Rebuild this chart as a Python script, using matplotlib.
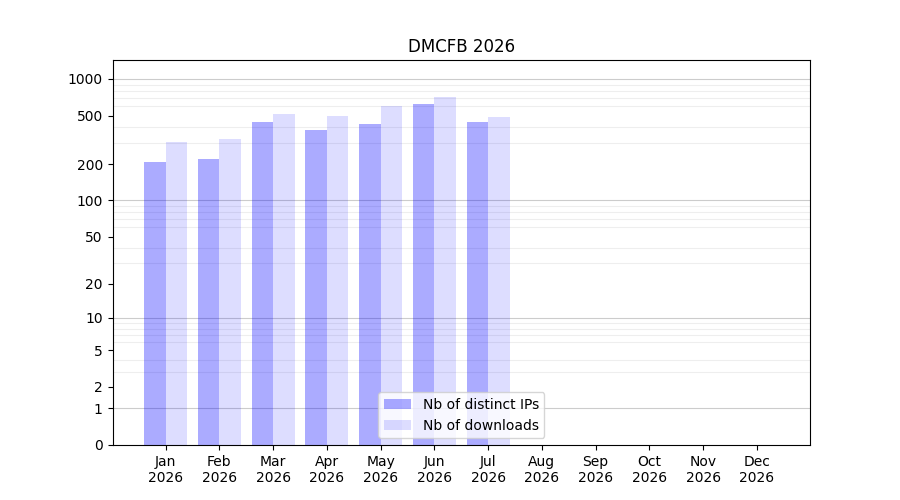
import numpy as np
import matplotlib
matplotlib.use("Agg")
import matplotlib.pyplot as plt

months = ['Jan', 'Feb', 'Mar', 'Apr', 'May', 'Jun', 'Jul', 'Aug', 'Sep', 'Oct', 'Nov', 'Dec']
year = 2026
distinct_ips = [207, 218, 439, 384, 423, 628, 447, 0, 0, 0, 0, 0]
downloads = [301, 324, 520, 501, 605, 717, 491, 0, 0, 0, 0, 0]

tick_vals = [0, 1, 2, 5, 10, 20, 50, 100, 200, 500, 1000]

fig, ax = plt.subplots(figsize=(9, 5), dpi=100)

# echelle log(1+x) pour pouvoir afficher les zeros
ax.set_yscale('function', functions=(lambda v: np.log10(np.maximum(v, 0) + 1),
                                     lambda v: 10 ** v - 1))

x = np.arange(len(months))
width = 0.4
ax.bar(x, distinct_ips, -width, align='edge', color='blue', alpha=0.33,
       label='Nb of distinct IPs', zorder=2)
ax.bar(x, downloads, width, align='edge', color='blue', alpha=0.133,
       label='Nb of downloads', zorder=2)

ax.set_yticks(tick_vals)
ax.set_yticklabels([str(v) for v in tick_vals])

minor = [m * 10 ** d for d in range(0, 3) for m in range(2, 10)]
ax.set_yticks(minor, minor=True)
ax.tick_params(axis='y', which='minor', length=0)
ax.yaxis.grid(True, which='minor', color='#eeeeee', linewidth=0.8, zorder=0.5)
for v in [1, 10, 100, 1000]:
    ax.axhline(v, color='#cccccc', linewidth=0.8, zorder=0.6)
ax.set_axisbelow(True)
ax.set_ylim(0, 1430)

ax.set_xticks(x)
ax.set_xticklabels([f'{m}\n{year}' for m in months])
ax.set_title(f'DMCFB {year}')
ax.legend(loc='lower center')

plt.savefig('out.png')
